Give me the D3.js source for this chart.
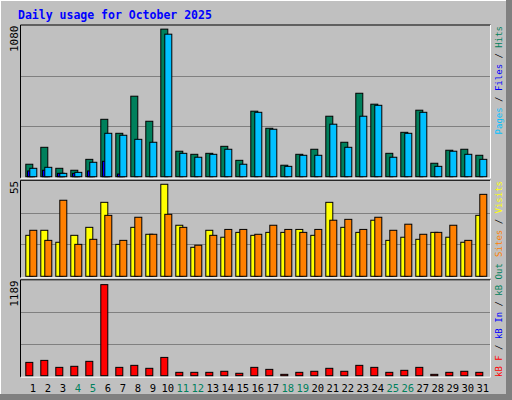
<!DOCTYPE html>
<html><head><meta charset="utf-8">
<script src="https://cdn.jsdelivr.net/npm/d3@7"></script>
<style>body{margin:0;background:#fff}</style></head>
<body><svg id="c" width="512" height="400"></svg>
<script>
const days = d3.range(1, 32);
const weekend = [4,5,11,12,18,19,25,26];
const hits  = [89,210,60,46,124,410,310,575,396,1054,182,160,167,217,117,468,346,82,160,196,432,246,596,518,167,317,475,96,189,196,153];
const files = [60,67,24,31,103,310,296,267,246,1018,167,139,160,196,89,460,339,74,153,153,375,210,432,510,139,310,460,74,182,160,124];
const pages = [41,46,24,24,41,110,19,0,0,0,0,0,0,0,0,0,0,0,0,0,0,0,0,0,0,0,0,0,0,0,0];
const visits = [23.6,26.5,19.6,23.6,28.2,42.6,18.4,28.2,24.2,53,29.4,16.7,26.5,22.5,25.3,23.6,25.3,25.3,27,23.6,42.6,28.2,25.3,32.3,20.7,22.5,21.3,25.3,22.5,19.6,35.1];
const sites  = [26.5,20.7,43.8,18.4,21.3,35.1,20.7,34,24.2,35.7,28.2,17.9,23.6,27,27,24.2,29.4,27,25.3,27,32.3,32.8,27,34,26.5,30,24.2,25.3,29.4,20.7,47.2];
const kbf = [166,191,104,117,179,1135,104,129,92,228,42,42,42,55,30,104,79,17,42,55,92,55,129,104,42,67,104,17,42,55,42];
const maxLabels = ["1080","55","1189"];
const maxVals = [1080,55,1189];

const svg = d3.select("#c");
const mono = "'DejaVu Sans Mono', monospace";
svg.append("rect").attr("width",512).attr("height",400).attr("fill","#808080");
svg.append("rect").attr("width",506).attr("height",394).attr("fill","#c0c0c0");
svg.append("line").attr("x1",0).attr("y1",0.5).attr("x2",506).attr("y2",0.5).attr("stroke","#fff");
svg.append("line").attr("x1",0.5).attr("y1",0).attr("x2",0.5).attr("y2",394).attr("stroke","#fff");

svg.append("text").attr("x",18).attr("y",19).attr("font-family",mono).attr("font-weight","bold")
  .attr("font-size",11.5).attr("fill","#0000ff").text("Daily usage for October 2025");

const x = d3.scaleBand().domain(days).range([20.3, 485.3]).paddingInner(0).paddingOuter(0);
const panels = [{top:25.5,bot:176.7},{top:180.8,bot:276.3},{top:280.3,bot:375.7}];

panels.forEach((p,i)=>{
  const y = d3.scaleLinear().domain([0,maxVals[i]]).range([p.bot,p.top]);
  p.y = y;
  const g = svg.append("g");
  g.append("rect").attr("x",20).attr("y",p.top-1).attr("width",470).attr("height",p.bot-p.top+2).attr("fill","#c0c0c0");
  [1/3,2/3].forEach(f=>{
    const yy = Math.round(y(maxVals[i]*f))+0.5;
    g.append("line").attr("x1",20).attr("x2",490).attr("y1",yy).attr("y2",yy).attr("stroke","#808080");
  });
  g.append("path").attr("d",`M20.5,${p.bot+1.5}V${p.top-0.5}H490.5`).attr("fill","none").attr("stroke","#000");
  g.append("path").attr("d",`M20.5,${p.bot+1.5}H490.5V${p.top-0.5}`).attr("fill","none").attr("stroke","#fff");
  g.append("text").attr("transform",`translate(18,${p.top})rotate(-90)`).attr("text-anchor","end")
    .attr("font-family",mono).attr("font-size",11).attr("fill","#000").text(maxLabels[i]);
});

function bars(data, panel, off, w, color){
  const y = panels[panel].y;
  svg.append("g").selectAll("rect").data(data).join("rect")
    .attr("x",(d,i)=>x(days[i])+off+0.5).attr("width",w)
    .attr("y",d=>y(d)).attr("height",d=>Math.max(0,panels[panel].bot-y(d)))
    .attr("fill",color).attr("stroke","#000").attr("stroke-width",1);
}
bars(hits,0,5,7,"#00805c");
bars(pages,0,6.7,7,"#0000ff");
bars(files,0,9,7,"#00c0ff");
bars(visits,1,5,7,"#ffff00");
bars(sites,1,9,7,"#ff8000");
bars(kbf,2,5,7,"#ff0000");

svg.append("g").selectAll("text").data(days).join("text")
  .attr("x",d=>x(d)+x.bandwidth()/2+5).attr("y",392).attr("text-anchor","middle")
  .attr("font-family",mono).attr("font-size",10.5)
  .attr("fill",d=>weekend.includes(d)?"#00805c":"#000").text(d=>d);

function legend(parts, yPos, anchor){
  const t = svg.append("text").attr("transform",`translate(502,${yPos})rotate(-90)`).attr("text-anchor",anchor)
    .attr("font-family",mono).attr("font-size",9);
  parts.forEach(([s,c])=>t.append("tspan").attr("fill",c).text(s));
}
legend([["Pages","#00c0ff"],[" / ","#000"],["Files","#0000ff"],[" / ","#000"],["Hits","#00805c"]],26,"end");
legend([["Sites","#ff8000"],[" / ","#000"],["Visits","#ffff00"]],181,"end");
legend([["kB F","#ff0000"],[" / ","#000"],["kB In","#0000ff"],[" / ","#000"],["kB Out","#00805c"]],377,"start");
</script></body></html>
